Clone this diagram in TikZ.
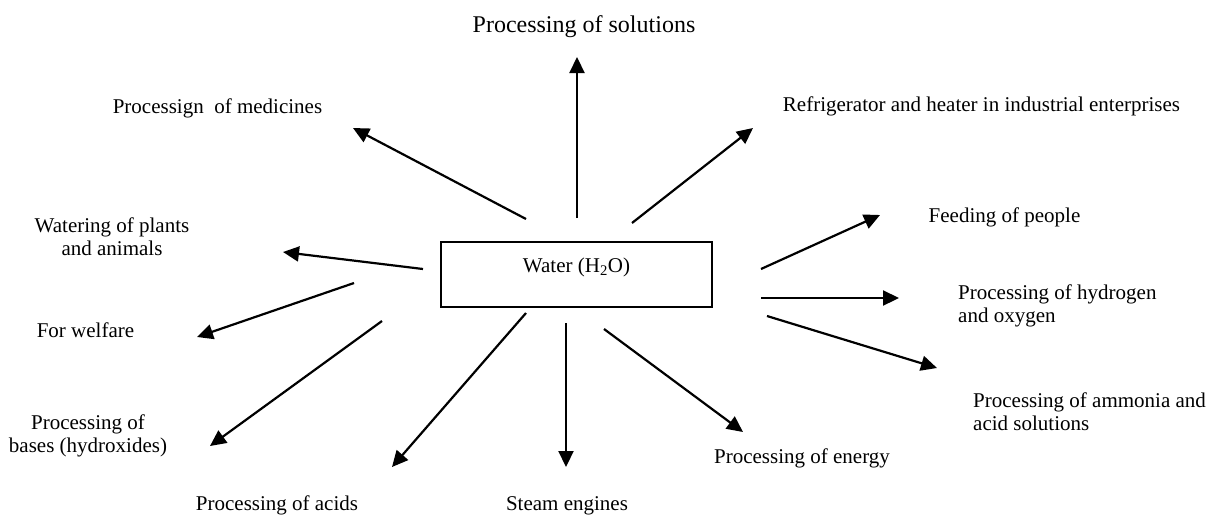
\documentclass[tikz,border=0pt]{standalone}
\usepackage{fontspec}
\setmainfont{Liberation Serif}
\usetikzlibrary{arrows.meta}
\tikzset{
  box/.style={draw, line width=1.3pt, minimum width=271pt, minimum height=65pt, inner sep=0pt},
  lbl/.style={font=\fontsize{21}{23}\selectfont, inner sep=0pt, anchor=base, align=center},
  lbll/.style={lbl, anchor=base west, align=left},
  arr/.style={line width=2.2pt, -{Triangle[length=16pt,width=15pt]}}
}

\begin{document}
\begin{tikzpicture}[x=1pt,y=-1pt]
    \useasboundingbox (0,0) rectangle (1210,515);
    \node[box, font=\fontsize{21}{23}\selectfont] (water) at (576.5,274.5)
      {\raisebox{7pt}[\height][\depth]{Water (H\textsubscript{2}O)}};
    % labels
    \node[lbl, font=\fontsize{24}{27}\selectfont] (sol) at (584,32) {Processing of solutions};
    \node[lbl] (med) at (217.5,113) {Processign\ \ of medicines};
    \node[lbl] (ref) at (981.5,111) {Refrigerator and heater in industrial enterprises};
    \node[lbl] (wat) at (112,255) {Watering of plants\\and animals};
    \node[lbl] (feed) at (1004.5,222) {Feeding of people};
    \node[lbll] (hyd) at (958,322) {Processing of hydrogen\\and oxygen};
    \node[lbll] (amm) at (973,430) {Processing of ammonia and\\acid solutions};
    \node[lbl] (wel) at (85.5,337) {For welfare};
    \node[lbl] (bas) at (88,452) {Processing of\\bases (hydroxides)};
    \node[lbl] (acid) at (277,510) {Processing of acids};
    \node[lbl] (steam) at (567,510) {Steam engines};
    \node[lbl] (ener) at (802,463) {Processing of energy};
    % arrow ends
    \coordinate (s1) at (577,218);  \coordinate (e1) at (577,57);
    \coordinate (s2) at (526,219);  \coordinate (e2) at (353,128);
    \coordinate (s3) at (632,223);  \coordinate (e3) at (753,128);
    \coordinate (s4) at (423,269);  \coordinate (e4) at (283,252);
    \coordinate (s5) at (761,269);  \coordinate (e5) at (880,215);
    \coordinate (s6) at (761,298);  \coordinate (e6) at (899,298);
    \coordinate (s7) at (767,316);  \coordinate (e7) at (937,368);
    \coordinate (s8) at (354,283);  \coordinate (e8) at (197,337);
    \coordinate (s9) at (382,321);  \coordinate (e9) at (210,446);
    \coordinate (s10) at (526,313); \coordinate (e10) at (392,467);
    \coordinate (s11) at (566,323); \coordinate (e11) at (566,467);
    \coordinate (s12) at (604,329); \coordinate (e12) at (743,432);
    \foreach \i in {1,...,12}
      \draw[arr] (s\i) -- (e\i);
  \end{tikzpicture}
\end{document}
